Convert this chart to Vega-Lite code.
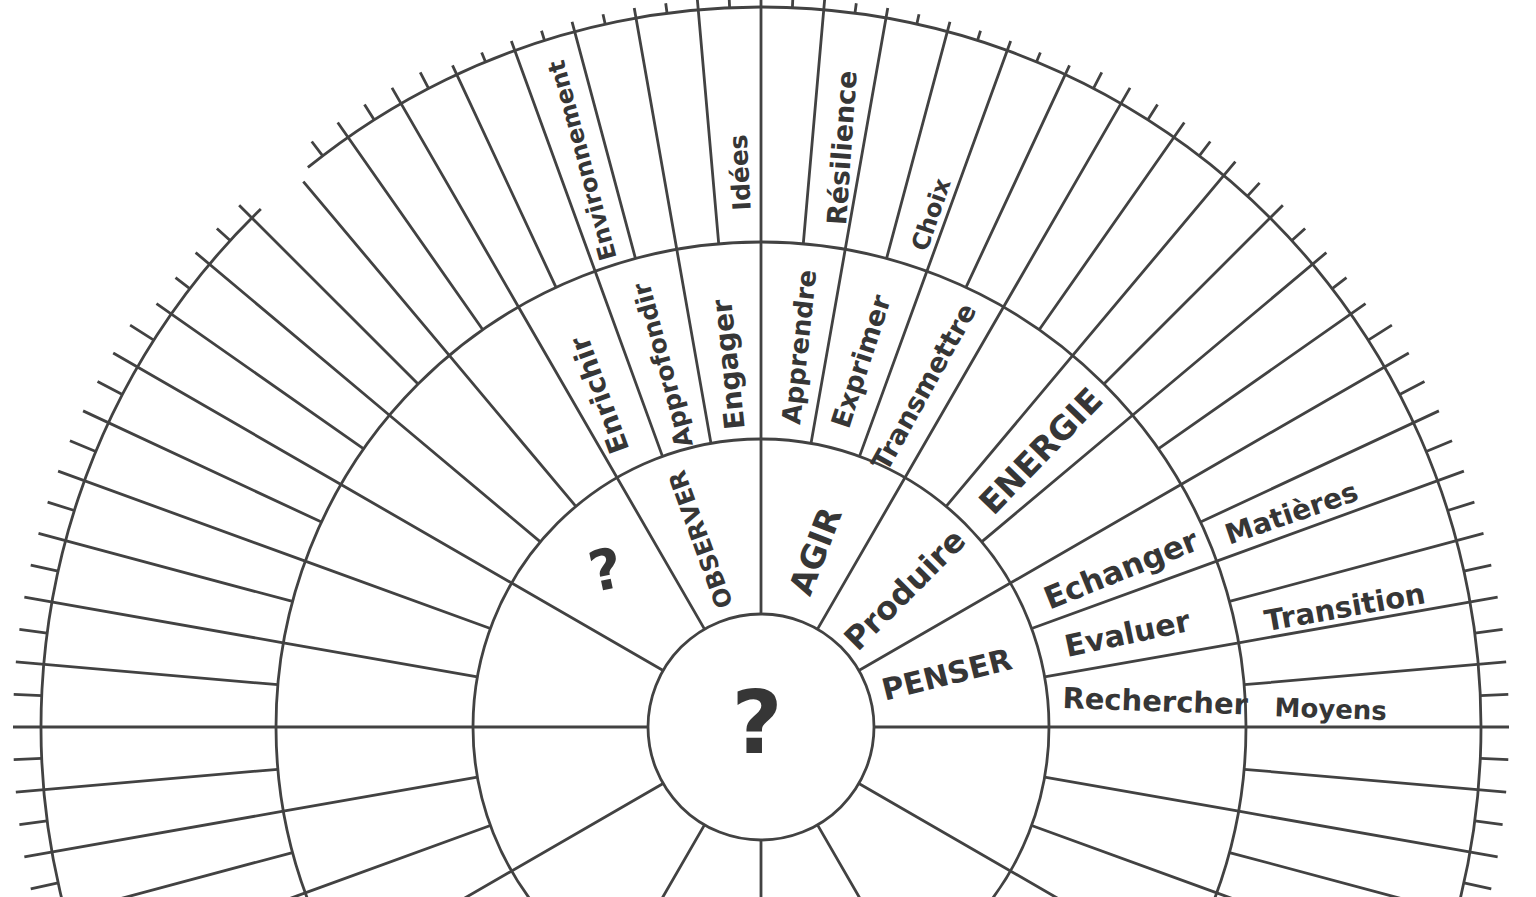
{
  "$schema": "https://vega.github.io/schema/vega-lite/v6.json",
  "width": 1536,
  "height": 897,
  "autosize": {"type": "none"},
  "padding": 0,
  "background": "white",
  "config": {"view": {"stroke": null}},
  "encoding": {
    "x": {"datum": 0, "type": "quantitative", "scale": {"domain": [-761, 775], "nice": false, "zero": false}, "axis": null},
    "y": {"datum": 0, "type": "quantitative", "scale": {"domain": [-170, 727], "nice": false, "zero": false}, "axis": null}
  },
  "layer": [
    {
      "data": {"values": [
        {"a": 0, "b": 360, "r": 113},
        {"a": 0, "b": 360, "r": 288},
        {"a": 0, "b": 360, "r": 485},
        {"a": -39, "b": 316, "r": 720}
      ]},
      "mark": {"type": "arc", "filled": false, "stroke": "#424242", "strokeWidth": 2.8},
      "encoding": {
        "theta": {"field": "a", "type": "quantitative", "stack": null, "scale": {"domain": [0, 360], "range": [0, 6.283185307179586]}},
        "theta2": {"field": "b"},
        "radius": {"field": "r", "type": "quantitative", "scale": {"type": "linear", "domain": [0, 1000], "range": [0, 1000]}},
        "radius2": {"field": "r"}
      }
    },
    {
      "data": {"values": [
        {"a": 0, "r0": 113, "r1": 485}, {"a": 30, "r0": 113, "r1": 485}, {"a": 60, "r0": 113, "r1": 485},
        {"a": 90, "r0": 113, "r1": 485}, {"a": 120, "r0": 113, "r1": 485}, {"a": 150, "r0": 113, "r1": 288},
        {"a": 180, "r0": 113, "r1": 288}, {"a": 210, "r0": 113, "r1": 288}, {"a": 240, "r0": 113, "r1": 485},
        {"a": 270, "r0": 113, "r1": 485}, {"a": 300, "r0": 113, "r1": 485}, {"a": 330, "r0": 113, "r1": 485},

        {"a": 10, "r0": 288, "r1": 485}, {"a": 20, "r0": 288, "r1": 485}, {"a": 40, "r0": 288, "r1": 485},
        {"a": 50, "r0": 288, "r1": 485}, {"a": 70, "r0": 288, "r1": 485}, {"a": 80, "r0": 288, "r1": 485},
        {"a": 100, "r0": 288, "r1": 485}, {"a": 110, "r0": 288, "r1": 485}, {"a": 250, "r0": 288, "r1": 485},
        {"a": 260, "r0": 288, "r1": 485}, {"a": 280, "r0": 288, "r1": 485}, {"a": 290, "r0": 288, "r1": 485},
        {"a": 310, "r0": 288, "r1": 485}, {"a": 320, "r0": 288, "r1": 485}, {"a": 340, "r0": 288, "r1": 485},
        {"a": 350, "r0": 288, "r1": 485},

        {"a": 0, "r0": 485, "r1": 730}, {"a": 5, "r0": 485, "r1": 730}, {"a": 10, "r0": 485, "r1": 730},
        {"a": 15, "r0": 485, "r1": 730}, {"a": 20, "r0": 485, "r1": 730}, {"a": 25, "r0": 485, "r1": 730},
        {"a": 30, "r0": 485, "r1": 738}, {"a": 35, "r0": 485, "r1": 738}, {"a": 40, "r0": 485, "r1": 738},
        {"a": 45, "r0": 485, "r1": 738}, {"a": 50, "r0": 485, "r1": 738}, {"a": 55, "r0": 485, "r1": 738},
        {"a": 60, "r0": 485, "r1": 748}, {"a": 65, "r0": 485, "r1": 748}, {"a": 70, "r0": 485, "r1": 748},
        {"a": 75, "r0": 485, "r1": 748}, {"a": 80, "r0": 485, "r1": 748}, {"a": 85, "r0": 485, "r1": 748},
        {"a": 90, "r0": 485, "r1": 748}, {"a": 95, "r0": 485, "r1": 748}, {"a": 100, "r0": 485, "r1": 748},
        {"a": 105, "r0": 485, "r1": 748}, {"a": 110, "r0": 485, "r1": 748},
        {"a": 250, "r0": 485, "r1": 748}, {"a": 255, "r0": 485, "r1": 748}, {"a": 260, "r0": 485, "r1": 748},
        {"a": 265, "r0": 485, "r1": 748}, {"a": 270, "r0": 485, "r1": 748}, {"a": 275, "r0": 485, "r1": 748},
        {"a": 280, "r0": 485, "r1": 748}, {"a": 285, "r0": 485, "r1": 748}, {"a": 290, "r0": 485, "r1": 748},
        {"a": 295, "r0": 485, "r1": 748}, {"a": 300, "r0": 485, "r1": 748}, {"a": 305, "r0": 485, "r1": 738},
        {"a": 310, "r0": 485, "r1": 738}, {"a": 315, "r0": 485, "r1": 738}, {"a": 320, "r0": 485, "r1": 712},
        {"a": 325, "r0": 485, "r1": 738}, {"a": 330, "r0": 485, "r1": 738}, {"a": 335, "r0": 485, "r1": 730},
        {"a": 340, "r0": 485, "r1": 730}, {"a": 345, "r0": 485, "r1": 730}, {"a": 350, "r0": 485, "r1": 730},
        {"a": 355, "r0": 485, "r1": 730},

        {"a": 2.5, "r0": 720, "r1": 730}, {"a": 7.5, "r0": 720, "r1": 730}, {"a": 12.5, "r0": 720, "r1": 730},
        {"a": 17.5, "r0": 720, "r1": 730}, {"a": 22.5, "r0": 720, "r1": 730}, {"a": 27.5, "r0": 720, "r1": 738},
        {"a": 32.5, "r0": 720, "r1": 738}, {"a": 37.5, "r0": 720, "r1": 738}, {"a": 42.5, "r0": 720, "r1": 738},
        {"a": 47.5, "r0": 720, "r1": 738}, {"a": 52.5, "r0": 720, "r1": 738}, {"a": 57.5, "r0": 720, "r1": 748},
        {"a": 62.5, "r0": 720, "r1": 748}, {"a": 67.5, "r0": 720, "r1": 748}, {"a": 72.5, "r0": 720, "r1": 748},
        {"a": 77.5, "r0": 720, "r1": 748}, {"a": 82.5, "r0": 720, "r1": 748}, {"a": 87.5, "r0": 720, "r1": 748},
        {"a": 92.5, "r0": 720, "r1": 748}, {"a": 97.5, "r0": 720, "r1": 748}, {"a": 102.5, "r0": 720, "r1": 748},
        {"a": 257.5, "r0": 720, "r1": 748}, {"a": 262.5, "r0": 720, "r1": 748}, {"a": 267.5, "r0": 720, "r1": 748},
        {"a": 272.5, "r0": 720, "r1": 748}, {"a": 277.5, "r0": 720, "r1": 748}, {"a": 282.5, "r0": 720, "r1": 748},
        {"a": 287.5, "r0": 720, "r1": 748}, {"a": 292.5, "r0": 720, "r1": 748}, {"a": 297.5, "r0": 720, "r1": 748},
        {"a": 302.5, "r0": 720, "r1": 748}, {"a": 307.5, "r0": 720, "r1": 738}, {"a": 312.5, "r0": 720, "r1": 738},
        {"a": 322.5, "r0": 720, "r1": 738}, {"a": 327.5, "r0": 720, "r1": 738}, {"a": 332.5, "r0": 720, "r1": 738},
        {"a": 337.5, "r0": 720, "r1": 730}, {"a": 342.5, "r0": 720, "r1": 730}, {"a": 347.5, "r0": 720, "r1": 730},
        {"a": 352.5, "r0": 720, "r1": 730}, {"a": 357.5, "r0": 720, "r1": 730}
      ]},
      "mark": {"type": "arc", "filled": false, "stroke": "#424242", "strokeWidth": 2.8},
      "encoding": {
        "theta": {"field": "a", "type": "quantitative", "stack": null, "scale": {"domain": [0, 360], "range": [0, 6.283185307179586]}},
        "theta2": {"field": "a"},
        "radius": {"field": "r0", "type": "quantitative", "scale": {"type": "linear", "domain": [0, 1000], "range": [0, 1000]}},
        "radius2": {"field": "r1"}
      }
    },
    {
      "data": {"values": [
        {"id": "centre", "label": "?", "a": 270, "r": 4, "rot": 0},
        {"id": "secteur", "label": "?", "a": -45, "r": 219, "rot": -12},
        {"id": "OBSERVER", "label": "OBSERVER", "a": -17.4, "r": 197, "rot": -110},
        {"id": "AGIR", "label": "AGIR", "a": 17.7, "r": 184, "rot": -69},
        {"id": "Produire", "label": "Produire", "a": 46.6, "r": 199, "rot": -45},
        {"id": "PENSER", "label": "PENSER", "a": 74.7, "r": 193, "rot": -14},
        {"id": "Enrichir", "label": "Enrichir", "a": -25.7, "r": 369, "rot": -110},
        {"id": "Approfondir", "label": "Approfondir", "a": -15.1, "r": 375, "rot": -105},
        {"id": "Engager", "label": "Engager", "a": -4.9, "r": 364, "rot": -96},
        {"id": "Apprendre", "label": "Apprendre", "a": 5.9, "r": 382, "rot": -84},
        {"id": "Exprimer", "label": "Exprimer", "a": 15.5, "r": 379, "rot": -72},
        {"id": "Transmettre", "label": "Transmettre", "a": 25.8, "r": 377, "rot": -61},
        {"id": "ENERGIE", "label": "ENERGIE", "a": 45.6, "r": 393, "rot": -46},
        {"id": "Echanger", "label": "Echanger", "a": 66.6, "r": 393, "rot": -22},
        {"id": "Evaluer", "label": "Evaluer", "a": 75.9, "r": 378, "rot": -12},
        {"id": "Rechercher", "label": "Rechercher", "a": 86.4, "r": 395, "rot": 2},
        {"id": "Environnement", "label": "Environnement", "a": -17.4, "r": 594, "rot": -105},
        {"id": "Idées", "label": "Idées", "a": -2.1, "r": 555, "rot": -93},
        {"id": "Résilience", "label": "Résilience", "a": 8.1, "r": 585, "rot": -86},
        {"id": "Choix", "label": "Choix", "a": 18.5, "r": 540, "rot": -71},
        {"id": "Matières", "label": "Matières", "a": 68.2, "r": 572, "rot": -19},
        {"id": "Transition", "label": "Transition", "a": 78.5, "r": 596, "rot": -10},
        {"id": "Moyens", "label": "Moyens", "a": 88.3, "r": 570, "rot": 2}
      ]},
      "mark": {"type": "text", "font": "DejaVu Sans", "fontWeight": "bold", "color": "#363636", "align": "center", "baseline": "middle"},
      "encoding": {
        "theta": {"field": "a", "type": "quantitative", "stack": null, "scale": {"domain": [0, 360], "range": [0, 6.283185307179586]}},
        "radius": {"field": "r", "type": "quantitative", "scale": {"type": "linear", "domain": [0, 1000], "range": [0, 1000]}},
        "text": {"field": "label"},
        "angle": {"field": "rot", "type": "quantitative", "scale": {"domain": [-180, 180], "range": [-180, 180]}},
        "size": {
          "field": "id", "type": "nominal", "legend": null,
          "scale": {
            "type": "ordinal",
            "domain": ["centre", "secteur", "OBSERVER", "AGIR", "Produire", "PENSER", "Enrichir", "Approfondir", "Engager", "Apprendre", "Exprimer", "Transmettre", "ENERGIE", "Echanger", "Evaluer", "Rechercher", "Environnement", "Idées", "Résilience", "Choix", "Matières", "Transition", "Moyens"],
            "range": [88, 56, 24, 33, 32, 30, 28, 25, 28, 26, 27, 27, 33, 31, 30, 29, 24, 25, 27, 24, 28, 29, 26]
          }
        }
      }
    }
  ]
}
